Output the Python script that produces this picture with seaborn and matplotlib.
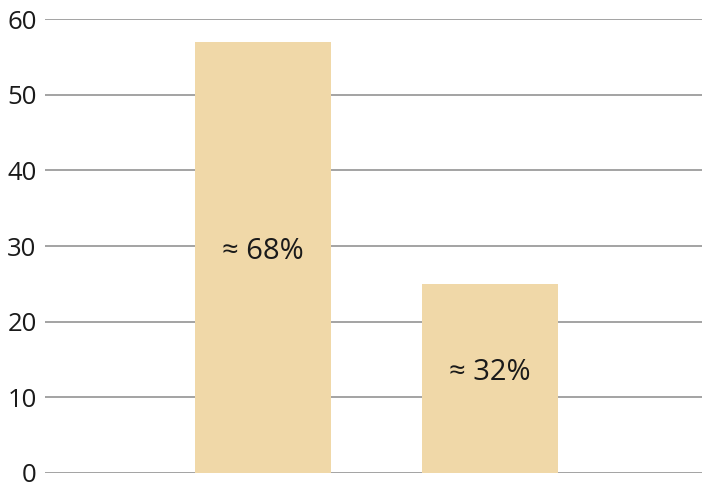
import matplotlib
matplotlib.use("Agg")
import matplotlib.pyplot as plt
import seaborn as sns
import pandas as pd

# datos
categorias = ["A", "B"]
valores = [57, 25]
etiquetas = ["≈ 68%", "≈ 32%"]

df = pd.DataFrame({"cat": categorias, "val": valores})

sns.set_style("white")
plt.rcParams["font.family"] = ["Open Sans", "DejaVu Sans"]

fig = plt.figure(figsize=(7.02, 4.88), dpi=100)
ax = fig.add_axes([45 / 702, 15 / 488, 657 / 702, 454 / 488])

sns.barplot(data=df, x="cat", y="val", color="#F0D8A8", width=0.6,
            saturation=1, linewidth=0, ax=ax, zorder=3)

ax.set_ylim(0, 60)
ax.set_xlim(-0.96, 1.934)
ax.set_yticks(range(0, 61, 10))
ax.yaxis.grid(True, color="#A3A3A3", linewidth=1.4, zorder=0)
ax.set_axisbelow(True)
for s in ax.spines.values():
    s.set_visible(False)
ax.tick_params(axis="y", length=0, pad=6, labelsize=18.5, labelcolor="#1a1a1a")
ax.set_xticks([])
ax.set_xlabel("")
ax.set_ylabel("")

for i, (v, t) in enumerate(zip(valores, etiquetas)):
    ax.text(i, v / 2 + 0.8, t, ha="center", va="center", fontsize=21,
            color="#1a1a1a", zorder=4)

fig.savefig("out.png", dpi=100)
